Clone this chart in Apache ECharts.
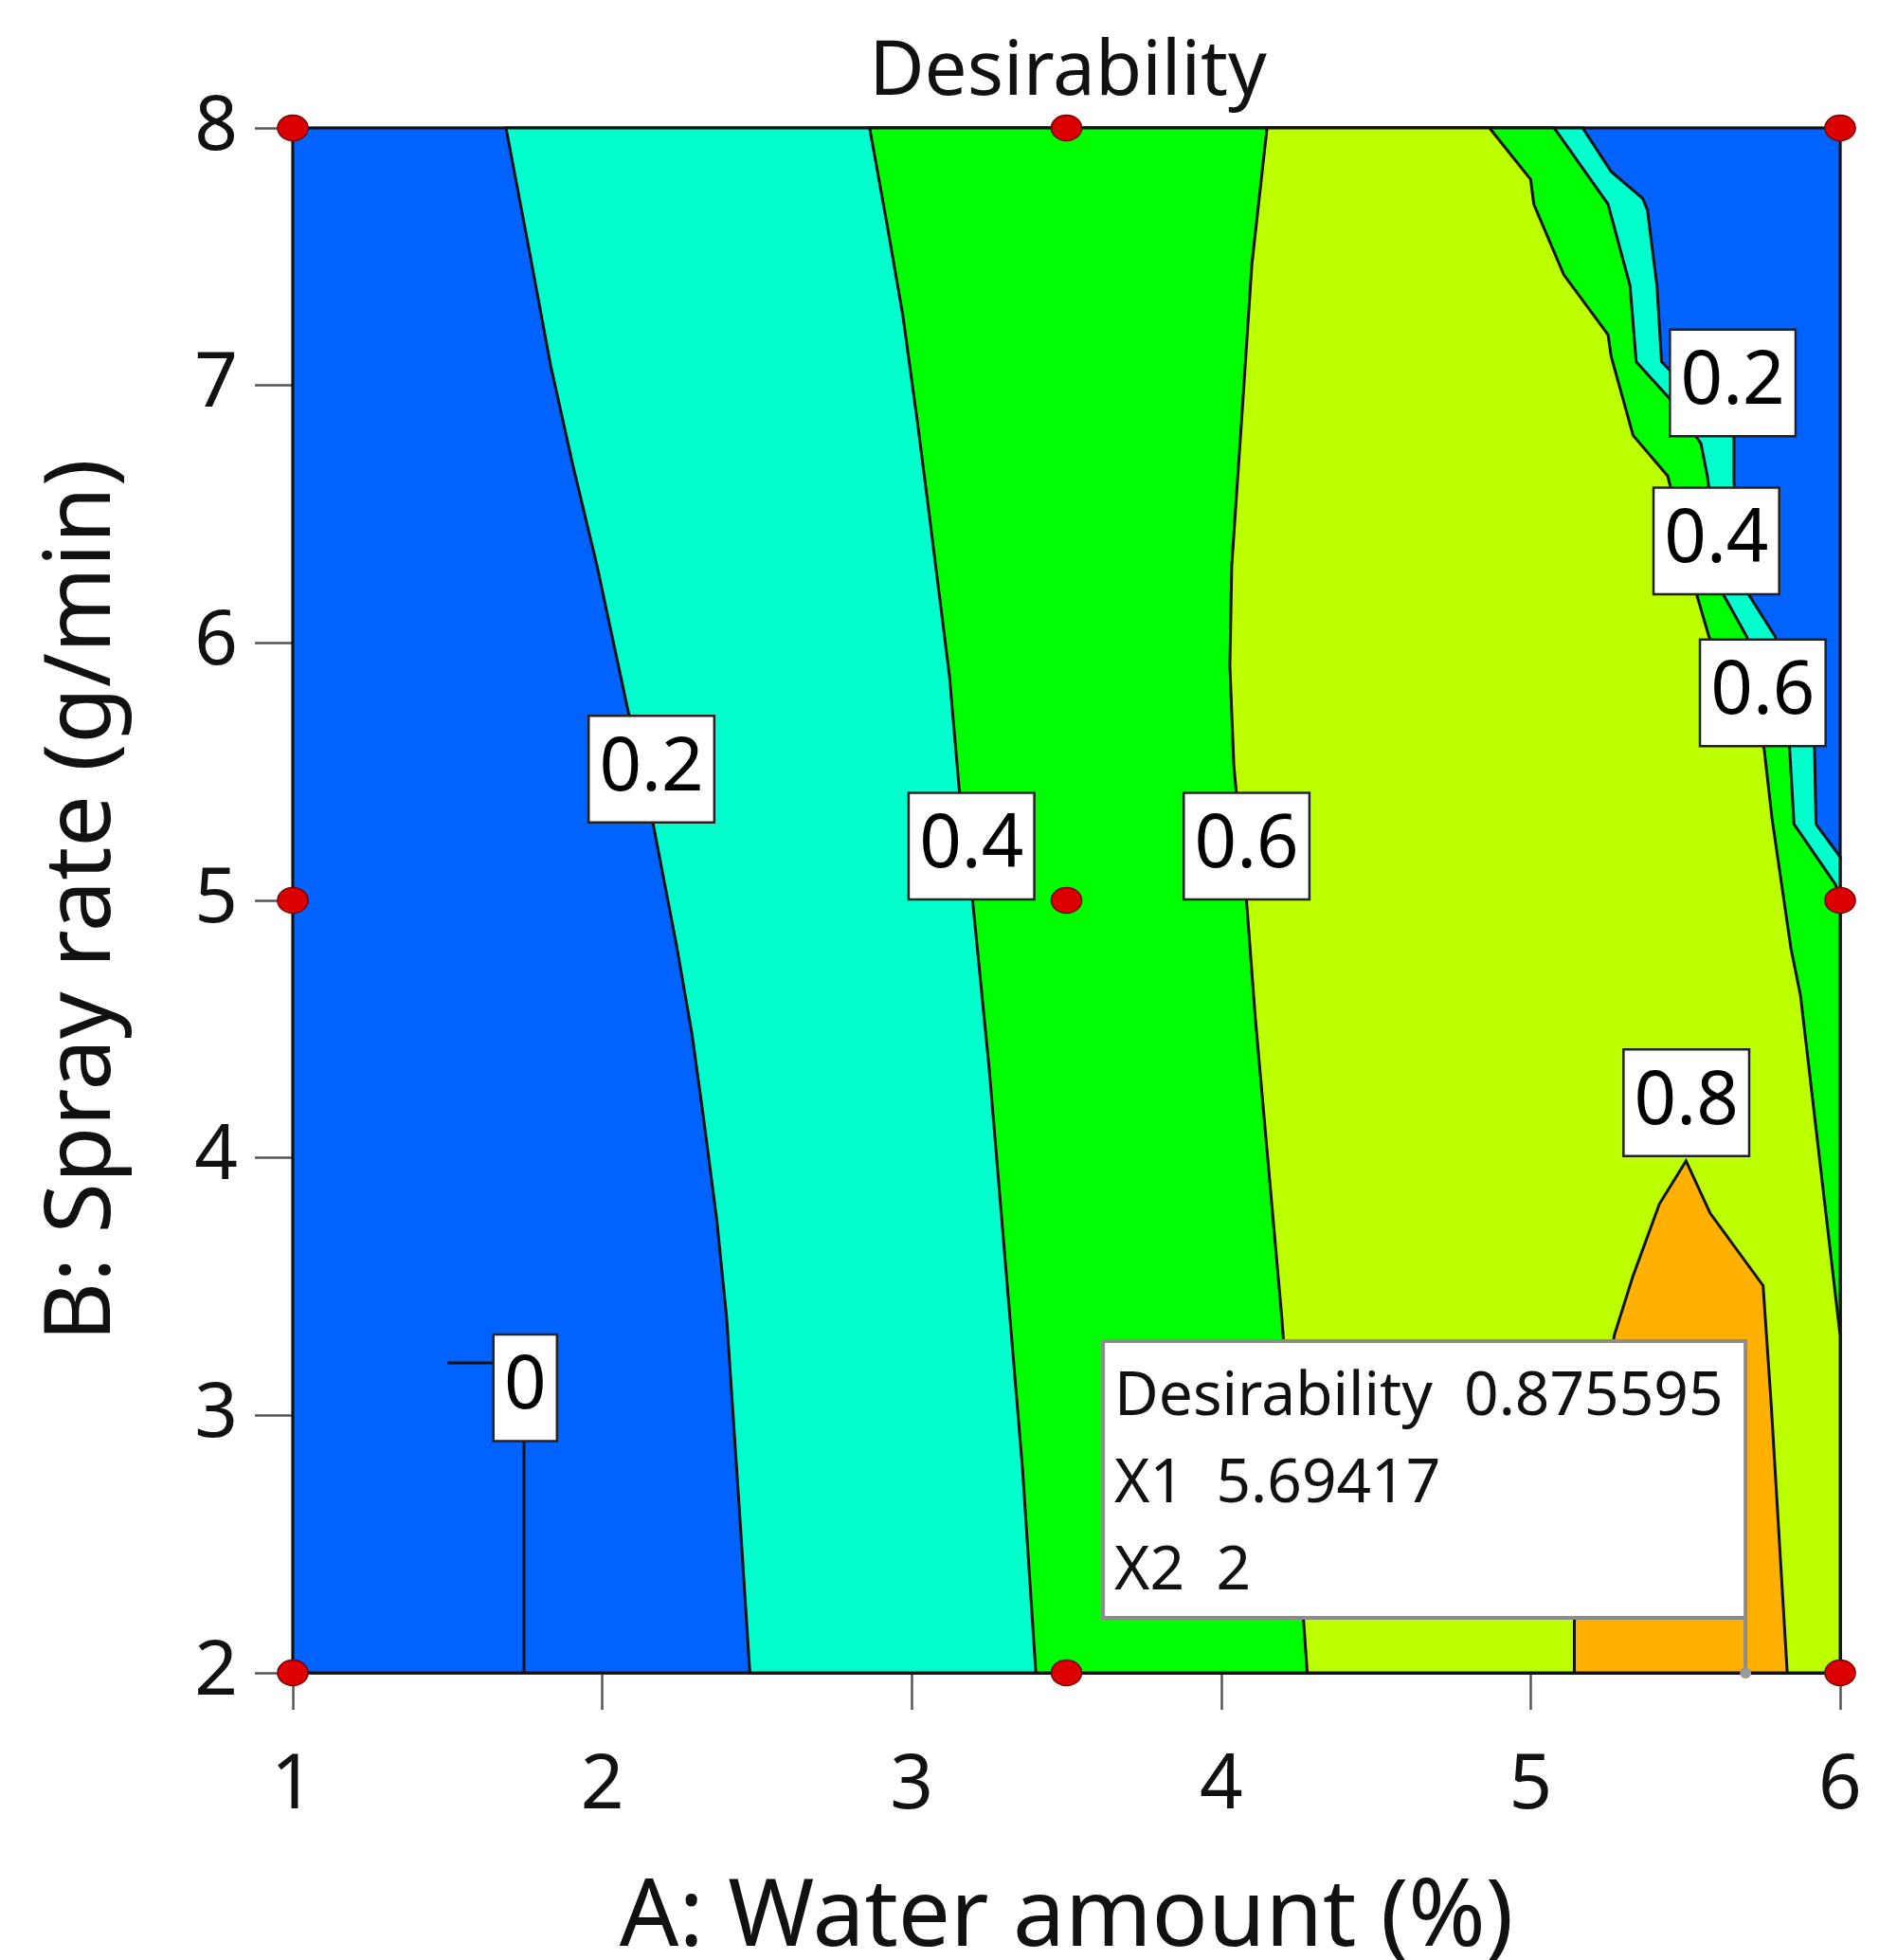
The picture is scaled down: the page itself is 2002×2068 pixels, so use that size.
<!DOCTYPE html>
<html>
<head>
<meta charset="utf-8">
<script src="https://cdn.jsdelivr.net/npm/echarts@6/dist/echarts.min.js"></script>
<style>
  html, body { margin: 0; padding: 0; background: #fff; }
  #chart { width: 2002px; height: 2068px; }
</style>
</head>
<body>
<div id="chart"></div>
<script>
// axis ranges and ticks
const aRange = [1, 6]
const bRange = [2, 8]

// design points (A, B)
const designA = [1, 3.5, 6]
const designB = [2, 5, 8]

// contour lines, [A, B]
const c00 = [[1.50, 3.204], [1.747, 3.204], [1.747, 2]]
const c02Left = [[1.689, 8], [1.760, 7.55], [1.833, 7.079], [1.905, 6.690], [1.983, 6.300], [2.080, 5.755], [2.166, 5.287], [2.241, 4.819], [2.290, 4.480], [2.327, 4.157], [2.370, 3.760], [2.402, 3.378], [2.445, 2.598], [2.477, 2]]
const c04Left = [[2.864, 8], [2.918, 7.640], [2.971, 7.274], [3.016, 6.880], [3.057, 6.495], [3.122, 5.871], [3.154, 5.423], [3.197, 4.995], [3.250, 4.351], [3.304, 3.572], [3.358, 2.793], [3.401, 2]]
const c06Left = [[4.148, 8], [4.099, 7.469], [4.067, 6.884], [4.034, 6.300], [4.028, 5.910], [4.041, 5.520], [4.082, 4.995], [4.110, 4.547], [4.153, 3.962], [4.196, 3.378], [4.240, 2.650], [4.278, 2]]
const c02Right = [[5.168, 8], [5.260, 7.831], [5.362, 7.726], [5.377, 7.683], [5.408, 7.388], [5.423, 7.092], [5.657, 6.800], [5.657, 6.623], [5.698, 6.200], [5.790, 6.025], [5.917, 5.602], [5.922, 5.296], [6, 5.169]]
const c04Right = [[5.076, 8], [5.250, 7.704], [5.321, 7.388], [5.341, 7.092], [5.453, 6.944], [5.550, 6.775], [5.571, 6.648], [5.617, 6.200], [5.698, 6.025], [5.836, 5.602], [5.851, 5.296], [5.984, 5.064], [6, 5.021]]
const c06Right = [[4.867, 8], [5.000, 7.80], [5.010, 7.704], [5.107, 7.430], [5.250, 7.197], [5.260, 7.113], [5.331, 6.806], [5.443, 6.648], [5.535, 6.194], [5.576, 6.025], [5.754, 5.592], [5.780, 5.317], [5.841, 4.814], [5.872, 4.630], [6, 3.31]]
const c08 = [[5.141, 2], [5.141, 2.2], [5.270, 3.310], [5.330, 3.539], [5.416, 3.821], [5.502, 3.988], [5.580, 3.785], [5.751, 3.504], [5.777, 3.046], [5.829, 2]]

// contour labels
const labelText = ['0', '0.2', '0.4', '0.6', '0.8', '0.2', '0.4', '0.6']
const labelPos = [[1.751, 3.107], [2.159, 5.510], [3.193, 5.211], [4.082, 5.211], [5.503, 4.214], [5.653, 7.010], [5.600, 6.396], [5.750, 5.806]]

// flag point
const flagPoint = [5.69417, 2]
const flagLines = ['Desirability  0.875595', 'X1  5.69417', 'X2  2']

const levelColors = ['#0062ff', '#00ffcc', '#00ff00', '#bbff00', '#ffb000']

const FONT = 'Noto Sans'
const corner = (a, b) => [aRange[a], bRange[b]]
// regions where desirability >= level, painted from low to high
const regions = [
  [corner(0, 0), corner(1, 0), corner(1, 1), corner(0, 1)],
  c02Left.concat([corner(1, 0)], c02Right.slice().reverse()),
  c04Left.concat([corner(1, 0)], c04Right.slice().reverse()),
  c06Left.concat([corner(1, 0)], c06Right.slice().reverse()),
  c08
]

const designPts = []
designB.forEach(b => designA.forEach(a => designPts.push([a, b])))

const chart = echarts.init(document.getElementById('chart'))
chart.setOption({
  animation: false,
  textStyle: { fontFamily: FONT },
  title: {
    text: 'Desirability', left: 1122, top: 32, textAlign: 'center',
    textStyle: { fontFamily: FONT, fontSize: 80, fontWeight: 'normal', color: '#111' }
  },
  grid: { left: 309, right: 60, top: 135, bottom: 303, outerBoundsMode: 'none',
    show: true, borderColor: '#222', borderWidth: 2.5 },
  xAxis: {
    type: 'value', min: aRange[0], max: aRange[1], interval: 1,
    name: 'A: Water amount (%)', nameLocation: 'middle', nameGap: 211,
    nameTextStyle: { fontSize: 98, color: '#111', fontFamily: FONT },
    axisLine: { lineStyle: { color: '#222', width: 2.5 } },
    axisTick: { length: 39, lineStyle: { color: '#555', width: 2.5 } },
    axisLabel: { fontSize: 80, color: '#111', margin: 80 },
    splitLine: { show: false }
  },
  yAxis: {
    type: 'value', min: bRange[0], max: bRange[1], interval: 1,
    name: 'B: Spray rate (g/min)', nameLocation: 'middle', nameGap: 172,
    nameTextStyle: { fontSize: 97, color: '#111', fontFamily: FONT },
    axisLine: { lineStyle: { color: '#222', width: 2.5 } },
    axisTick: { length: 40, lineStyle: { color: '#555', width: 2.5 } },
    axisLabel: { fontSize: 80, color: '#111', margin: 58 },
    splitLine: { show: false }
  },
  series: [
    {
      type: 'custom', z: 1,
      data: regions.map((r, i) => i),
      renderItem: (params, api) => ({
        type: 'polygon',
        shape: { points: regions[params.dataIndex].map(p => api.coord(p)) },
        style: { fill: levelColors[params.dataIndex], stroke: '#111', lineWidth: 3 }
      })
    },
    {
      type: 'line', z: 2, data: c00, symbol: 'none',
      lineStyle: { color: '#111', width: 3 }
    },
    {
      type: 'scatter', z: 3, symbolSize: 1, itemStyle: { color: 'rgba(0,0,0,0)', opacity: 1 },
      data: labelPos.map((p, i) => ({ value: p, name: labelText[i] })),
      label: {
        show: true, position: 'inside', formatter: '{b}',
        fontSize: 78, color: '#000', backgroundColor: '#fff',
        borderColor: '#222', borderWidth: 2.5, padding: [8, 10, 6, 10], lineHeight: 96
      }
    },
    {
      type: 'custom', z: 4, clip: false,
      data: [flagPoint],
      renderItem: (params, api) => {
        const p = api.coord([api.value(0), api.value(1)])
        const w = 678, h = 292, lift = 58
        return {
          type: 'group',
          children: [
            { type: 'line', shape: { x1: p[0], y1: p[1], x2: p[0], y2: p[1] - lift },
              style: { stroke: '#8c8c8c', lineWidth: 4 } },
            { type: 'circle', shape: { cx: p[0], cy: p[1], r: 6 }, style: { fill: '#9a9a9a' } },
            { type: 'rect', shape: { x: p[0] - w, y: p[1] - lift - h, width: w, height: h },
              style: { fill: '#fff', stroke: '#8c8c8c', lineWidth: 4 } },
            { type: 'text', x: p[0] - w + 12, y: p[1] - lift - h + 14,
              style: { text: flagLines.join('\n'), fontFamily: FONT, fontSize: 64, lineHeight: 92, fill: '#111' } }
          ]
        }
      }
    },
    {
      type: 'scatter', z: 5, clip: false, symbol: 'circle', symbolSize: [32, 27],
      data: designPts,
      itemStyle: { color: '#dd0000', opacity: 1, borderColor: '#7a0000', borderWidth: 1.5 }
    }
  ]
})
</script>
</body>
</html>
